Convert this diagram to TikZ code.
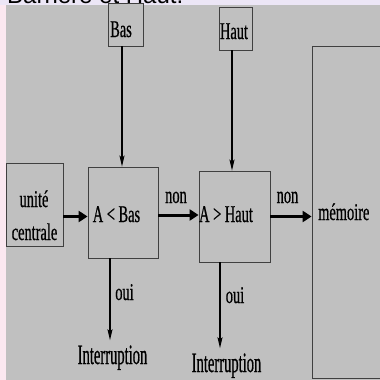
\documentclass[tikz,border=0pt]{standalone}
\usepackage{fontspec}
\usetikzlibrary{arrows.meta}
\newfontfamily\condserif[FakeStretch=0.6,FakeBold=0.6]{Liberation Serif}
\newfontfamily\condserifb[FakeStretch=0.52,FakeBold=0.6]{Liberation Serif}
\newfontfamily\titlesans{Liberation Sans}
\definecolor{panelgray}{RGB}{192,192,192}
\definecolor{topstrip}{RGB}{236,230,246}
\definecolor{sidestrip}{RGB}{251,232,240}
\tikzset{
  box/.style={draw=black!75, line width=0.8pt, fill=panelgray, inner sep=0pt},
  txt/.style={inner sep=0pt, anchor=base, font=\condserif\fontsize{24}{28}\selectfont},
  bigtxt/.style={inner sep=0pt, anchor=base, font=\condserifb\fontsize{28}{32}\selectfont},
  thinarrow/.style={line width=1.3pt, -{Stealth[length=11pt,width=5pt,inset=2pt]}},
  thickarrow/.style={line width=3pt, -{Triangle[length=9pt,width=11pt]}}
}
\begin{document}
\begin{tikzpicture}[x=1pt,y=-1pt]
  \useasboundingbox (0,0) rectangle (380,380);
  \clip (0,0) rectangle (380,380);
  % page background and panel
  \fill[sidestrip] (0,0) rectangle (380,380);
  \fill[topstrip] (0,0) rectangle (380,5);
  \fill[panelgray] (6,5) rectangle (380,380);
  \node[inner sep=0pt, anchor=base west, font=\titlesans\fontsize{24}{28}\selectfont] (title) at (7,3) {Barrière et Haut.};

  % boxes
  \node[box, minimum width=35pt, minimum height=43pt] (bas) at (125.5,24.5) {};
  \node[box, minimum width=33pt, minimum height=43pt] (haut) at (235.5,28.5) {};
  \node[box, minimum width=80pt, minimum height=332pt] (mem) at (352,212) {};
  \node[box, minimum width=57pt, minimum height=83pt] (uc) at (34.5,204.5) {};
  \node[box, minimum width=70pt, minimum height=91pt] (ab) at (123,212.5) {};
  \node[box, minimum width=71pt, minimum height=91pt] (ah) at (234.5,216.5) {};

  % texts
  \node[txt] (tbas) at (121,37) {Bas};
  \node[txt] (thaut) at (234,39) {Haut};
  \node[txt] (tuc1) at (34,207) {unité};
  \node[txt] (tuc2) at (34.5,240) {centrale};
  \node[txt] (tab) at (116.5,222) {A < Bas};
  \node[txt] (tah) at (226,222) {A > Haut};
  \node[txt, anchor=base west] (tmem) at (318,220) {mémoire};
  \node[txt] (non1) at (176,203) {non};
  \node[txt] (non2) at (287.5,203) {non};
  \node[txt] (oui1) at (124.5,300) {oui};
  \node[txt] (oui2) at (235,303) {oui};
  \node[bigtxt] (int1) at (112.5,364) {Interruption};
  \node[bigtxt] (int2) at (226.5,372) {Interruption};

  % connectors
  \draw[thinarrow] ([xshift=-3.5pt]bas.south) -- ([xshift=-1pt]ab.north);
  \draw[thinarrow] ([xshift=-3.5pt]haut.south) -- ([xshift=-2.5pt]ah.north);
  \draw[thickarrow] (uc.east |- ah.west) -- (ab.west |- ah.west);
  \draw[thickarrow] ([yshift=1.5pt]ab.east |- ah.west) -- ([yshift=1.5pt]ah.west);
  \draw[thickarrow] (ah.east) -- (mem.west |- ah.east);
  \draw[thinarrow] ([xshift=-13pt]ab.south) -- ([xshift=-2.5pt,yshift=5pt]int1.north);
  \draw[thinarrow] ([xshift=-14.5pt]ah.south) -- ([xshift=-6.5pt,yshift=5pt]int2.north);
\end{tikzpicture}
\end{document}
